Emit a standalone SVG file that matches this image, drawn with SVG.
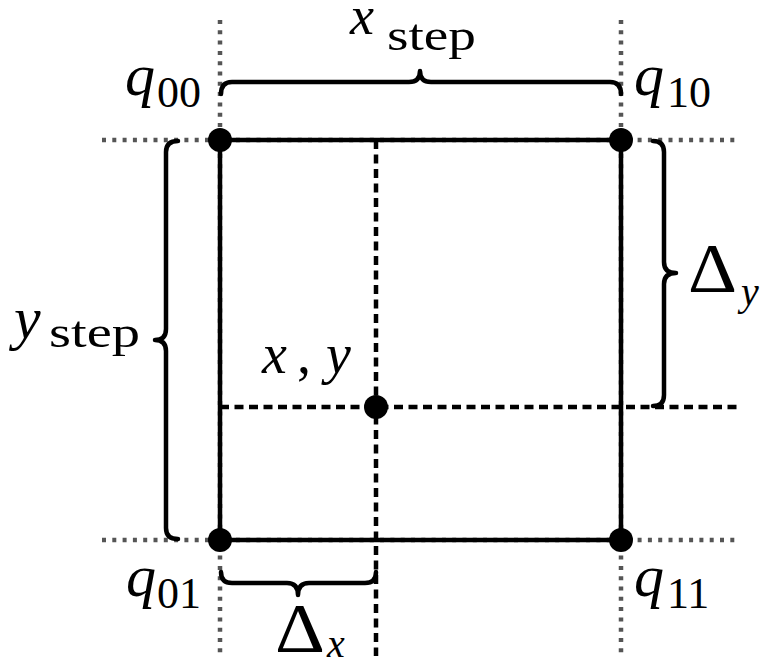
<svg xmlns="http://www.w3.org/2000/svg" width="769" height="667" viewBox="0 0 769 667">
<style>
.dotted{stroke:#555;stroke-width:4.5;stroke-dasharray:4 6.3;fill:none}
.solid{stroke:#000;stroke-width:4.5;fill:none;stroke-linecap:butt}
.dashed{stroke:#000;stroke-width:4.5;stroke-dasharray:9 5.5;fill:none}
.brace{stroke:#000;stroke-width:4.5;fill:none;stroke-linejoin:round;stroke-linecap:round}
.pt{fill:#000}
text{font-family:'Liberation Serif','DejaVu Serif',serif;fill:#000}
.it{font-style:italic}
.rm{font-style:normal}
</style>
<rect width="769" height="667" fill="#fff"/>
<g id="connectors">
<g id="guides">
<line class="dotted" x1="102" y1="140" x2="740" y2="140"/>
<line class="dotted" x1="102" y1="540" x2="740" y2="540"/>
<line class="dotted" x1="220" y1="20" x2="220" y2="658"/>
<line class="dotted" x1="621" y1="20" x2="621" y2="658"/>
</g>
<g id="cell">
<line class="solid" x1="220" y1="140" x2="621" y2="140"/>
<line class="solid" x1="220" y1="540" x2="621" y2="540"/>
<line class="solid" x1="220" y1="140" x2="220" y2="540"/>
<line class="solid" x1="621" y1="140" x2="621" y2="540"/>
</g>
<g id="crosshair">
<line class="dashed" x1="376" y1="140" x2="376" y2="656"/>
<line class="dashed" x1="220" y1="407" x2="740" y2="407"/>
</g>
</g>
<g id="braces">
<path class="brace" d="M221 94 Q221 82 232 82 L409 82 Q420 82 420 71 Q420 82 431 82 L610 82 Q621 82 621 94"/>
<path class="brace" d="M178 141 Q166 141 166 152 L166 329 Q166 340 155 340 Q166 340 166 351 L166 528 Q166 539 178 539"/>
<path class="brace" d="M653 141 Q664 141 664 152 L664 262 Q664 273 676 273 Q664 273 664 284 L664 395 Q664 406 653 406"/>
<path class="brace" d="M221 572 Q221 583 232 583 L287 583 Q298 583 298 595 Q298 583 309 583 L365 583 Q376 583 376 572"/>
</g>
<g id="q00">
<circle class="pt" cx="220" cy="140" r="12"/>
<text><tspan class="it" x="125" y="95" font-size="60">q</tspan><tspan class="rm" x="157" y="107" font-size="44">00</tspan></text>
</g>
<g id="q10">
<circle class="pt" cx="621" cy="140" r="12"/>
<text><tspan class="it" x="634" y="95" font-size="60">q</tspan><tspan class="rm" x="667" y="107" font-size="44">10</tspan></text>
</g>
<g id="q01">
<circle class="pt" cx="220" cy="540" r="12"/>
<text><tspan class="it" x="126" y="596" font-size="60">q</tspan><tspan class="rm" x="157" y="608" font-size="44">01</tspan></text>
</g>
<g id="q11">
<circle class="pt" cx="621" cy="540" r="12"/>
<text><tspan class="it" x="634" y="596" font-size="60">q</tspan><tspan class="rm" x="667" y="608" font-size="44">11</tspan></text>
</g>
<g id="xy">
<circle class="pt" cx="376" cy="407" r="12"/>
<text><tspan class="it" x="262" y="373" font-size="56">x</tspan><tspan class="rm" x="297" y="373" font-size="56">,</tspan><tspan class="it" x="326" y="373" font-size="56">y</tspan></text>
</g>
<g id="labels">
<text><tspan class="it" x="350" y="34" font-size="54">x</tspan><tspan class="rm" x="387" y="50" font-size="44" textLength="89" lengthAdjust="spacingAndGlyphs">step</tspan></text>
<text><tspan class="it" x="14" y="338" font-size="60">y</tspan><tspan class="rm" x="49" y="347" font-size="44" textLength="91" lengthAdjust="spacingAndGlyphs">step</tspan></text>
<text><tspan class="rm" x="688" y="292" font-size="70" textLength="49" lengthAdjust="spacingAndGlyphs">Δ</tspan><tspan class="it" x="741" y="305" font-size="40">y</tspan></text>
<text><tspan class="rm" x="275" y="652" font-size="70" textLength="50" lengthAdjust="spacingAndGlyphs">Δ</tspan><tspan class="it" x="327" y="657" font-size="40">x</tspan></text>
</g>
</svg>
